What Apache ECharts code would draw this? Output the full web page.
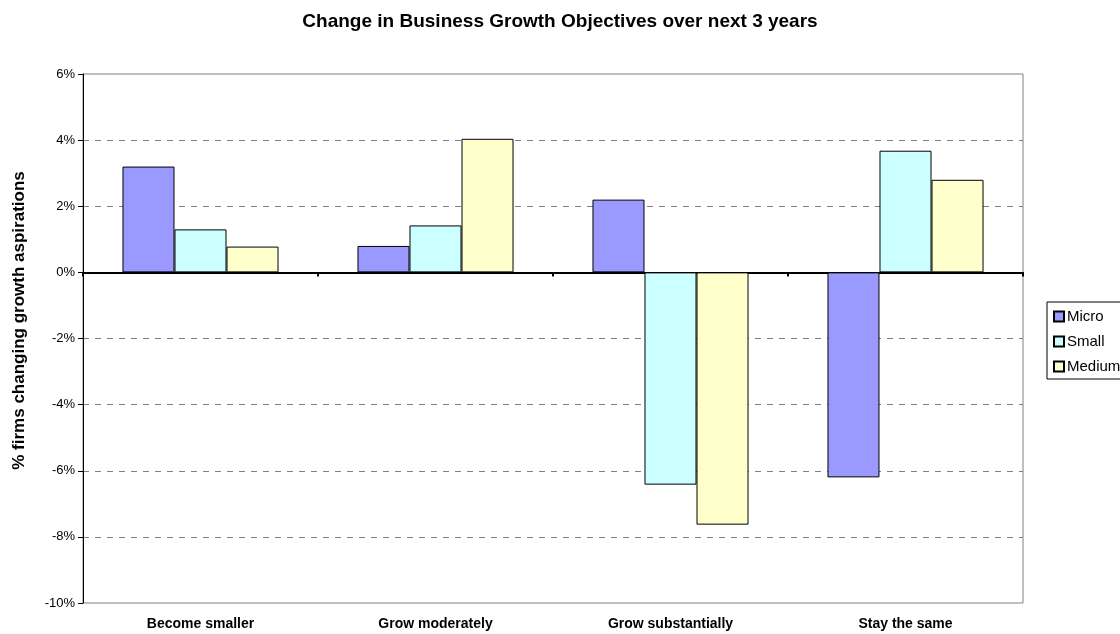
<!DOCTYPE html>
<html>
<head>
<meta charset="utf-8">
<script src="https://cdn.jsdelivr.net/npm/echarts@6/dist/echarts.min.js"></script>
<style>
html,body{margin:0;padding:0;background:#fff;overflow:hidden;}
#chart{width:1120px;height:634px;}
</style>
</head>
<body>
<div id="chart"></div>
<script>
const categories = ['Become smaller', 'Grow moderately', 'Grow substantially', 'Stay the same'];
const micro = [3.2, 0.8, 2.2, -6.2];
const small = [1.3, 1.42, -6.42, 3.68];
const medium = [0.78, 4.04, -7.63, 2.8];
const seriesNames = ['Micro', 'Small', 'Medium'];
const seriesColors = ['#9999FF', '#CCFFFF', '#FFFFCC'];

const chart = echarts.init(document.getElementById('chart'));
const font = 'Liberation Sans, Arial, sans-serif';
const dataSets = [micro, small, medium];
chart.setOption({
  animation: false,
  textStyle: { fontFamily: font },
  title: {
    text: 'Change in Business Growth Objectives over next 3 years',
    left: 'center', top: 7,
    textStyle: { fontFamily: font, fontSize: 19, fontWeight: 'bold', color: '#000' }
  },
  legend: {
    orient: 'vertical',
    left: 1047, top: 302,
    padding: [7, 6, 5, 6],
    itemWidth: 10, itemHeight: 10, itemGap: 10,
    borderColor: '#000', borderWidth: 1,
    icon: 'rect',
    textStyle: { fontFamily: font, fontSize: 15, color: '#000', padding: [0, 0, 0, -2] },
    data: seriesNames
  },
  grid: {
    left: 83, right: 97, top: 74, bottom: 31,
    show: true, borderColor: '#808080', borderWidth: 1
  },
  xAxis: [
    {
      type: 'category', data: categories, position: 'bottom',
      axisLine: { show: false, onZero: false },
      axisTick: { show: false },
      axisLabel: { fontFamily: font, fontSize: 14, fontWeight: 'bold', color: '#000', margin: 14 }
    },
    {
      type: 'category', data: categories, position: 'bottom',
      axisLine: { show: true, onZero: true, lineStyle: { color: '#000', width: 2 } },
      axisTick: { show: true, length: 4, lineStyle: { color: '#000', width: 2 } },
      axisLabel: { show: false }
    }
  ],
  yAxis: {
    type: 'value', min: -10, max: 6, interval: 2,
    name: '% firms changing growth aspirations',
    nameLocation: 'middle', nameGap: 55, nameRotate: 90,
    nameTextStyle: { fontFamily: font, fontSize: 17, fontWeight: 'bold', color: '#000', padding: [0, 0, 0, 36] },
    axisLine: { show: true, lineStyle: { color: '#000', width: 1 } },
    axisTick: { show: true, length: 5, lineStyle: { color: '#000' } },
    axisLabel: { formatter: '{value}%', fontFamily: font, fontSize: 13, color: '#000', margin: 8 },
    splitLine: { show: true, showMinLine: false, showMaxLine: false, lineStyle: { color: '#808080', type: [6, 6], width: 1 } }
  },
  series: seriesNames.map((name, i) => ({
    name: name,
    type: 'bar',
    xAxisIndex: 0,
    data: dataSets[i],
    barGap: '0%',
    barCategoryGap: '33.6%',
    itemStyle: { color: seriesColors[i], borderColor: '#000', borderWidth: 1 }
  }))
});
</script>
</body>
</html>
